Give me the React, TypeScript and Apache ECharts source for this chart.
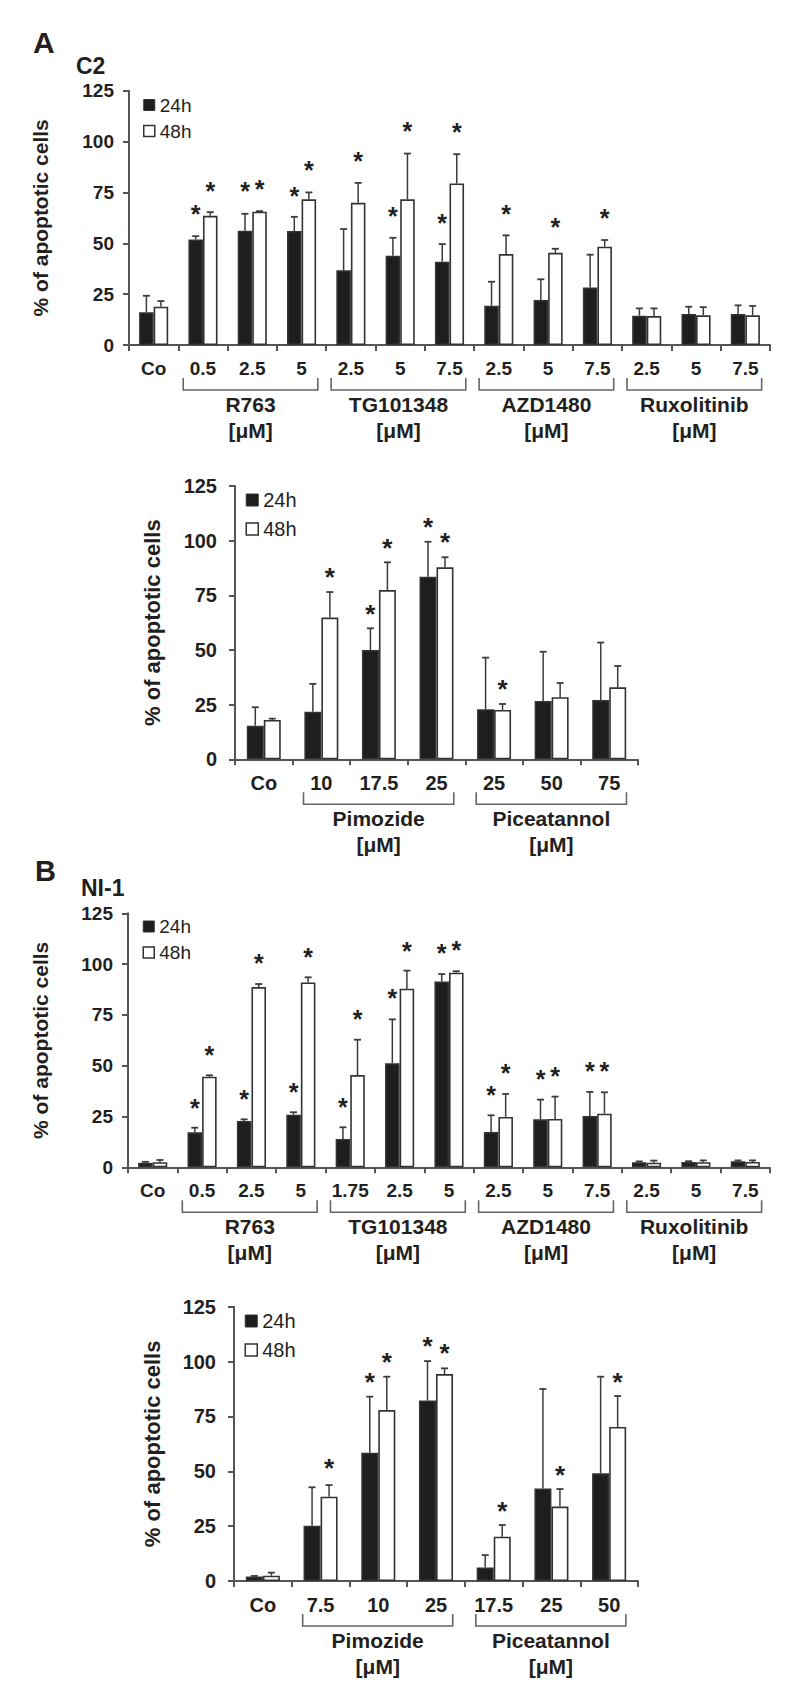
import React, { useEffect, useRef } from 'react';
import * as echarts from 'echarts';

// ---------- DATA ----------
// Panel A, C2 (upper)
const c2Cats = ['Co', '0.5', '2.5', '5', '2.5', '5', '7.5', '2.5', '5', '7.5', '2.5', '5', '7.5'];
const c2Mean24 = [16.1, 51.9, 56.1, 56.0, 36.7, 43.9, 40.9, 19.3, 22.1, 28.3, 14.4, 15.2, 15.2];
const c2Sd24 = [8.1, 1.6, 8.4, 7.0, 20.3, 8.8, 8.7, 11.8, 10.2, 16.1, 3.6, 3.6, 4.3];
const c2Mean48 = [18.8, 63.5, 65.5, 71.6, 69.9, 71.6, 79.4, 44.7, 45.3, 48.3, 14.2, 14.6, 14.6];
const c2Sd48 = [2.8, 1.8, 0.3, 3.4, 9.8, 22.5, 14.4, 9.2, 2.0, 3.3, 3.8, 4.0, 4.6];
const c2Star24 = [null, 67, 78.3, 76.1, null, 66, 62.7, null, null, null, null, null, null];
const c2Star48 = [null, 78.6, 79.4, 88.7, 93.3, 107.7, 107.2, 67.1, 60.6, 65, null, null, null];
const c2Groups = ['R763', 'TG101348', 'AZD1480', 'Ruxolitinib'];
const c2GroupFrom = [1, 4, 7, 10];
const c2GroupTo = [3, 6, 9, 12];

// Panel A, C2 (lower)
const c2bCats = ['Co', '10', '17.5', '25', '25', '50', '75'];
const c2bMean24 = [15.4, 21.8, 50.0, 83.5, 22.9, 26.7, 27.1];
const c2bSd24 = [8.4, 12.7, 9.9, 16.0, 23.6, 22.5, 26.3];
const c2bMean48 = [18.0, 64.8, 77.4, 87.8, 22.6, 28.4, 32.9];
const c2bSd48 = [0.6, 11.7, 12.7, 4.6, 2.7, 6.5, 9.8];
const c2bStar24 = [null, null, 68.9, 109, null, null, null];
const c2bStar48 = [null, 85.8, 99.2, 102.1, 34.8, null, null];
const c2bGroups = ['Pimozide', 'Piceatannol'];
const c2bGroupFrom = [1, 4];
const c2bGroupTo = [3, 6];

// Panel B, NI-1 (upper)
const niCats = ['Co', '0.5', '2.5', '5', '1.75', '2.5', '5', '2.5', '5', '7.5', '2.5', '5', '7.5'];
const niMean24 = [2.2, 17.2, 22.8, 25.9, 13.9, 51.2, 91.4, 17.4, 23.6, 25.3, 2.5, 2.6, 3.0];
const niSd24 = [0.5, 2.3, 0.8, 1.2, 5.8, 21.6, 3.7, 8.2, 9.7, 11.8, 0.4, 0.4, 0.4];
const niMean48 = [2.5, 44.6, 88.7, 91.0, 45.4, 87.9, 95.8, 24.8, 23.8, 26.4, 2.3, 2.5, 2.6];
const niSd48 = [1.1, 0.7, 1.5, 2.5, 17.4, 8.9, 0.7, 11.3, 11.0, 10.5, 1.0, 0.9, 0.8];
const niStar24 = [null, 32, 36.4, 39.7, 32.3, 86, 108.3, 38.4, 46.3, 49.9, null, null, null];
const niStar48 = [null, 58.1, 103.3, 106.1, 75.5, 109.1, 109.7, 48.9, 47.6, 49.9, null, null, null];
const niGroups = ['R763', 'TG101348', 'AZD1480', 'Ruxolitinib'];
const niGroupFrom = [1, 4, 7, 10];
const niGroupTo = [3, 6, 9, 12];

// Panel B, NI-1 (lower)
const nibCats = ['Co', '7.5', '10', '25', '17.5', '25', '50'];
const nibMean24 = [2.0, 25.2, 58.5, 82.2, 6.2, 42.1, 49.1];
const nibSd24 = [0.3, 17.5, 25.5, 18.0, 5.6, 45.4, 44.0];
const nibMean48 = [2.4, 38.4, 77.9, 94.3, 20.2, 33.9, 70.2];
const nibSd48 = [1.4, 5.3, 15.2, 2.6, 5.3, 8.0, 14.1];
const nibStar24 = [null, null, 93.1, 109.8, null, null, null];
const nibStar48 = [null, 53.9, 102.5, 106.5, 34.6, 50.9, 93.4];
const nibGroups = ['Pimozide', 'Piceatannol'];
const nibGroupFrom = [1, 4];
const nibGroupTo = [3, 6];

const yTicks = [0, 25, 50, 75, 100, 125];
const seriesNames = ['24h', '48h'];
const unitLabel = '[μM]';
const yName = '% of apoptotic cells';

// ---------- STYLE / LAYOUT ----------
const FONT = '"Liberation Sans", Arial, Helvetica, sans-serif';
const TXT = '#231f20';
const AXIS = '#555555';
const BLACK = '#1e1e1e';
const BORDER = '#333333';
const ERR = '#3c3c3c';
const BAR_RATIO = 0.295;

const panels = [
  { cats: c2Cats, m24: c2Mean24, s24: c2Sd24, m48: c2Mean48, s48: c2Sd48, st24: c2Star24, st48: c2Star48, groups: c2Groups, gFrom: c2GroupFrom, gTo: c2GroupTo },
  { cats: c2bCats, m24: c2bMean24, s24: c2bSd24, m48: c2bMean48, s48: c2bSd48, st24: c2bStar24, st48: c2bStar48, groups: c2bGroups, gFrom: c2bGroupFrom, gTo: c2bGroupTo },
  { cats: niCats, m24: niMean24, s24: niSd24, m48: niMean48, s48: niSd48, st24: niStar24, st48: niStar48, groups: niGroups, gFrom: niGroupFrom, gTo: niGroupTo },
  { cats: nibCats, m24: nibMean24, s24: nibSd24, m48: nibMean48, s48: nibSd48, st24: nibStar24, st48: nibStar48, groups: nibGroups, gFrom: nibGroupFrom, gTo: nibGroupTo },
];

const layouts = [
  { left: 129, top: 90.7, width: 641, height: 254.3, tick: 19, group: 21, name: 21, nameGap: 78, yMargin: 15, legLeft: 143, legTop: 95.5, legFont: 19, legGap: 7, legIcon: 11, star: 25, bL: 0.1, bR: 0.17 },
  { left: 235, top: 486, width: 403, height: 273.3, tick: 20, group: 21, name: 22, nameGap: 72, yMargin: 18, legLeft: 245.5, legTop: 490, legFont: 20, legGap: 9, legIcon: 12, star: 26, bL: 0.19, bR: 0.2 },
  { left: 128, top: 913.3, width: 642, height: 254, tick: 19, group: 21, name: 21, nameGap: 77, yMargin: 15, legLeft: 142.5, legTop: 917, legFont: 19, legGap: 7, legIcon: 11, star: 25, bL: 0.1, bR: 0.17 },
  { left: 234, top: 1306.7, width: 404, height: 274.3, tick: 20, group: 21, name: 22, nameGap: 71, yMargin: 18, legLeft: 244.5, legTop: 1311, legFont: 20, legGap: 9, legIcon: 12, star: 26, bL: 0.19, bR: 0.21 },
];

function txt(text: string, size: number, bold: boolean) {
  return {
    text,
    fill: TXT,
    fontFamily: FONT,
    fontSize: size,
    fontWeight: bold ? 'bold' : 'normal',
    align: 'center',
    verticalAlign: 'middle',
  };
}

function buildOption() {
  const grid: any[] = [];
  const xAxis: any[] = [];
  const yAxis: any[] = [];
  const series: any[] = [];
  const legend: any[] = [];

  panels.forEach((p, k) => {
    const L = layouts[k];
    grid.push({ left: L.left, top: L.top, width: L.width, height: L.height, containLabel: false });
    xAxis.push({
      type: 'category',
      gridIndex: k,
      data: p.cats,
      boundaryGap: true,
      axisLine: { lineStyle: { color: AXIS, width: 2 } },
      axisTick: { show: true, length: 6, inside: false, lineStyle: { color: AXIS, width: 2 } },
      axisLabel: { interval: 0, margin: 14, color: TXT, fontFamily: FONT, fontWeight: 'bold', fontSize: L.tick },
      splitLine: { show: false },
    });
    yAxis.push({
      type: 'value',
      gridIndex: k,
      min: yTicks[0],
      max: yTicks[yTicks.length - 1],
      interval: yTicks[1] - yTicks[0],
      name: yName,
      nameLocation: 'middle',
      nameGap: L.nameGap,
      nameTextStyle: { color: TXT, fontFamily: FONT, fontWeight: 'bold', fontSize: L.name },
      axisLine: { show: true, lineStyle: { color: AXIS, width: 2 } },
      axisTick: { show: true, length: 6, lineStyle: { color: AXIS, width: 2 } },
      axisLabel: { margin: L.yMargin, color: TXT, fontFamily: FONT, fontWeight: 'bold', fontSize: L.tick },
      splitLine: { show: false },
    });
    series.push({
      type: 'bar',
      name: seriesNames[0],
      xAxisIndex: k,
      yAxisIndex: k,
      data: p.m24,
      barWidth: BAR_RATIO * 100 + '%',
      barGap: '0%',
      itemStyle: { color: BLACK, borderColor: BORDER, borderWidth: 1.5 },
      z: 2,
    });
    series.push({
      type: 'bar',
      name: seriesNames[1],
      xAxisIndex: k,
      yAxisIndex: k,
      data: p.m48,
      barWidth: BAR_RATIO * 100 + '%',
      barGap: '0%',
      itemStyle: { color: '#ffffff', borderColor: BORDER, borderWidth: 1.6 },
      z: 2,
    });
    // error bars + significance stars
    series.push({
      type: 'custom',
      xAxisIndex: k,
      yAxisIndex: k,
      clip: false,
      z: 3,
      silent: true,
      data: p.cats.map((_, i) => [i, p.m24[i]]),
      renderItem: (params: any, api: any) => {
        const i = params.dataIndex;
        const band = api.size([1, 0])[0];
        const bw = band * BAR_RATIO;
        const c = api.coord([i, 0]);
        const children: any[] = [];
        const sets = [
          { m: p.m24[i], s: p.s24[i], st: p.st24[i], dx: -bw / 2 },
          { m: p.m48[i], s: p.s48[i], st: p.st48[i], dx: bw / 2 },
        ];
        sets.forEach((d) => {
          const x = c[0] + d.dx;
          const yTop = api.coord([i, d.m])[1];
          const yErr = api.coord([i, d.m + d.s])[1];
          children.push({ type: 'line', shape: { x1: x, y1: yTop, x2: x, y2: yErr }, style: { stroke: ERR, lineWidth: 1.5 } });
          children.push({ type: 'line', shape: { x1: x - 3.5, y1: yErr, x2: x + 3.5, y2: yErr }, style: { stroke: ERR, lineWidth: 1.8 } });
          if (d.st !== null && d.st !== undefined) {
            const ys = api.coord([i, d.st])[1];
            children.push({ type: 'text', x: x, y: ys + L.star * 0.22, style: txt('*', L.star, true) });
          }
        });
        return { type: 'group', children };
      },
    });
    // group brackets and names
    series.push({
      type: 'custom',
      xAxisIndex: k,
      yAxisIndex: k,
      clip: false,
      z: 3,
      silent: true,
      data: p.groups.map((_, g) => [p.gFrom[g], 0]),
      renderItem: (params: any, api: any) => {
        const g = params.dataIndex;
        const band = api.size([1, 0])[0];
        const x0 = api.coord([p.gFrom[g], 0])[0] - band / 2 + band * L.bL;
        const x1 = api.coord([p.gTo[g], 0])[0] + band / 2 - band * L.bR;
        const y0 = api.coord([0, 0])[1];
        const cx = (x0 + x1) / 2;
        return {
          type: 'group',
          children: [
            { type: 'polyline', shape: { points: [[x0, y0 + 33], [x0, y0 + 45], [x1, y0 + 45], [x1, y0 + 33]] }, style: { stroke: '#666', lineWidth: 1.6, fill: null } },
            { type: 'text', x: cx, y: y0 + 59.5, style: txt(p.groups[g], L.group, true) },
            { type: 'text', x: cx, y: y0 + 85.5, style: txt(unitLabel, L.group, true) },
          ],
        };
      },
    });
    legend.push({
      left: L.legLeft,
      top: L.legTop,
      orient: 'vertical',
      padding: 0,
      itemGap: L.legGap,
      itemWidth: L.legIcon,
      itemHeight: L.legIcon,
      selectedMode: false,
      icon: 'rect',
      textStyle: { color: TXT, fontFamily: FONT, fontSize: L.legFont },
      data: [
        { name: seriesNames[0], itemStyle: { color: BLACK, borderColor: BORDER, borderWidth: 1 } },
        { name: seriesNames[1], itemStyle: { color: '#ffffff', borderColor: BORDER, borderWidth: 1.5 } },
      ],
    });
  });

  const head = (text: string, size: number, left: number, top: number) => ({
    type: 'text',
    left,
    top,
    style: { text, fill: TXT, fontFamily: FONT, fontSize: size, fontWeight: 'bold' },
  });
  const graphic = [head('A', 30, 33, 27), head('C2', 23, 76, 54), head('B', 29, 35, 856), head('NI-1', 23, 81, 876)];

  return {
    animation: false,
    backgroundColor: '#ffffff',
    textStyle: { fontFamily: FONT },
    grid,
    xAxis,
    yAxis,
    legend,
    series,
    graphic,
  };
}

export default function App() {
  const ref = useRef<HTMLDivElement>(null);
  useEffect(() => {
    if (!ref.current) return;
    const chart = echarts.init(ref.current, undefined, { renderer: 'svg' });
    chart.setOption(buildOption() as any);
    return () => chart.dispose();
  }, []);
  return <div ref={ref} style={{ position: 'absolute', left: 0, top: 0, width: 800, height: 1705 }} />;
}
